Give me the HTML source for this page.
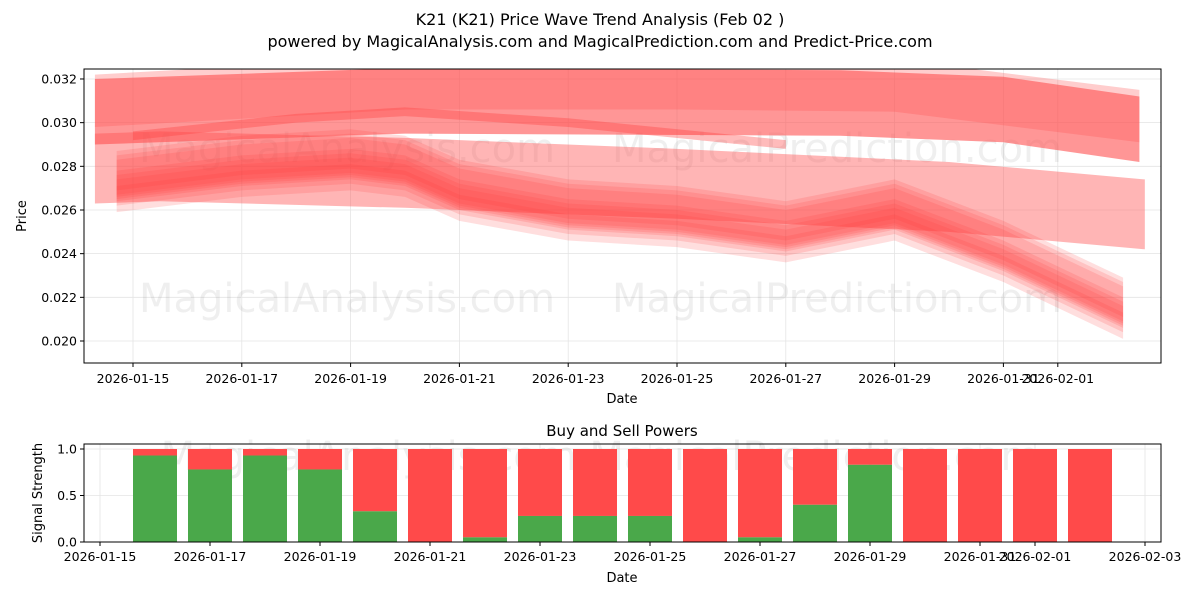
<!DOCTYPE html>
<html><head><meta charset="utf-8"><style>
body{margin:0;background:#fff;font-family:"Liberation Sans","DejaVu Sans",sans-serif}
svg text{font-family:"DejaVu Sans","Liberation Sans",sans-serif;fill:#000}
</style></head><body>
<svg id="c" width="1200" height="600" viewBox="0 0 1200 600" xmlns="http://www.w3.org/2000/svg">
<defs><clipPath id="plotClip"><rect x="84" y="69" width="1077" height="294"/></clipPath></defs>
<text x="600" y="25" text-anchor="middle" font-size="16">K21 (K21) Price Wave Trend Analysis (Feb 02 )</text>
<text x="600" y="47" text-anchor="middle" font-size="16">powered by MagicalAnalysis.com and MagicalPrediction.com and Predict-Price.com</text>
<g id="topPanel"><g id="topBands" clip-path="url(#plotClip)"></g></g>
<g id="botPanel"></g>
</svg>
<script>
const NS="http://www.w3.org/2000/svg";
// ---- data ----
const priceTicks=[0.020,0.022,0.024,0.026,0.028,0.030,0.032];
const topDateLabels=["2026-01-15","2026-01-17","2026-01-19","2026-01-21","2026-01-23","2026-01-25","2026-01-27","2026-01-29","2026-01-31","2026-02-01"];
const topDateDays=[0,2,4,6,8,10,12,14,16,17];
const bandADays=[-0.7,5,13,16,18.5];
const bandAPrice=[0.0305,0.0310,0.0309,0.0306,0.0297];
const bandBDays=[-0.7,0.5,5,10,15,18.6];
const bandBPrice=[0.0279,0.0280,0.0277,0.0272,0.0266,0.0258];
const bandCDays=[-0.7,5,10,14,18.5];
const bandCPrice=[0.0310,0.0318,0.0318,0.0317,0.0303];
const thinDays=[0,3,5,8,12];
const thinPrice=[0.0294,0.0302,0.0305,0.0300,0.0290];
const waveDays=[-0.3,2,4,5,6,8,10,12,14,16,18.2];
const wavePrice=[0.0272,0.0279,0.0282,0.0279,0.0268,0.0259,0.0256,0.0249,0.0259,0.0240,0.0214];
const waveOffsets=[0,0.0004,-0.0004,0.0002,-0.0007,0.0006,-0.0002];
const barLabels=["01-16","01-17","01-18","01-19","01-20","01-21","01-22","01-23","01-24","01-25","01-26","01-27","01-28","01-29","01-30","01-31","02-01","02-02"];
const buyPower=[0.93,0.78,0.93,0.78,0.33,0,0.05,0.28,0.28,0.28,0,0.05,0.4,0.83,0,0,0,0];
const botDateLabels=["2026-01-15","2026-01-17","2026-01-19","2026-01-21","2026-01-23","2026-01-25","2026-01-27","2026-01-29","2026-01-31","2026-02-01","2026-02-03"];
const botDateDays=[0,2,4,6,8,10,12,14,16,17,19];
const sigTicks=[0,0.5,1.0];
// ---- axes ----
const T={l:84,r:1161,t:69,b:363};
const tx=d=>133+54.4*d, ty=p=>341-(p-0.020)/0.002*43.67;
const B={l:84,r:1161,t:444,b:542};
const bx=d=>100+55*d, by=v=>542-v*93;
function el(p,tag,a,name){const e=document.createElementNS(NS,tag);for(const k in a)e.setAttribute(k,a[k]);


p.appendChild(e);return e;}
const gTop=document.getElementById('topPanel'), gBands=document.getElementById('topBands'), gBot=document.getElementById('botPanel');
priceTicks.forEach(p=>{el(gBands,'line',{x1:T.l,x2:T.r,y1:ty(p),y2:ty(p),stroke:'#e4e4e4','stroke-width':0.8},'grid-line-y');});
topDateDays.forEach(d=>{el(gBands,'line',{x1:tx(d),x2:tx(d),y1:T.t,y2:T.b,stroke:'#e4e4e4','stroke-width':0.8},'grid-line-x');});
[["MagicalAnalysis.com",347,162],["MagicalPrediction.com",837,162],["MagicalAnalysis.com",347,312],["MagicalPrediction.com",837,312]].forEach(w=>{
const t=el(gBands,'text',{x:w[1],y:w[2],'text-anchor':'middle','font-size':40,style:'fill:rgba(120,120,120,0.12)'},'watermark');t.textContent=w[0];});
function band(days,prices,hw,fill,name,off){
 off=off||0;const up=[],dn=[];
 for(let i=0;i<days.length;i++){const x=tx(days[i]);up.push(x+','+ty(prices[i]+off+hw));dn.unshift(x+','+ty(prices[i]+off-hw));}
 el(gBands,'polygon',{points:up.concat(dn).join(' '),fill:fill},name);
}
band(bandCDays,bandCPrice,0.0012,'rgba(255,90,90,0.3)','forecast-band-top');
band(bandBDays,bandBPrice,0.0016,'rgba(255,90,90,0.45)','forecast-band-lower');
band(bandADays,bandAPrice,0.0015,'rgba(255,80,80,0.6)','forecast-band-upper');
band(thinDays,thinPrice,0.0002,'rgba(255,60,60,0.35)','forecast-band-thin');
waveOffsets.forEach((o,i)=>band(waveDays,wavePrice,i%2?0.0009:0.0006,'rgba(255,60,60,0.17)','wave-band-'+i,o));
el(gTop,'rect',{x:T.l,y:T.t,width:T.r-T.l,height:T.b-T.t,fill:'none',stroke:'#000','stroke-width':1},'plot-frame');
priceTicks.forEach(p=>{el(gTop,'line',{x1:T.l-4,x2:T.l,y1:ty(p),y2:ty(p),stroke:'#000'},'y-tick');
const t=el(gTop,'text',{x:T.l-7,y:ty(p)+4.5,'text-anchor':'end','font-size':12.5},'y-tick-label');t.textContent=p.toFixed(3);});
topDateDays.forEach((d,i)=>{el(gTop,'line',{x1:tx(d),x2:tx(d),y1:T.b,y2:T.b+4,stroke:'#000'},'x-tick');
const t=el(gTop,'text',{x:tx(d),y:T.b+20,'text-anchor':'middle','font-size':12.5},'x-tick-label');t.textContent=topDateLabels[i];});
let t=el(gTop,'text',{x:622,y:403,'text-anchor':'middle','font-size':13},'x-axis-title');t.textContent='Date';
t=el(gTop,'text',{x:0,y:0,'text-anchor':'middle','font-size':13,transform:'translate(26,216) rotate(-90)'},'y-axis-title');t.textContent='Price';
sigTicks.forEach(v=>el(gBot,'line',{x1:B.l,x2:B.r,y1:by(v),y2:by(v),stroke:'#e4e4e4','stroke-width':0.8},'grid-line-y'));
botDateDays.forEach(d=>el(gBot,'line',{x1:bx(d),x2:bx(d),y1:B.t,y2:B.b,stroke:'#e4e4e4','stroke-width':0.8},'grid-line-x'));
t=el(gBot,'text',{x:600,y:470,'text-anchor':'middle','font-size':40,style:'fill:rgba(120,120,120,0.12)'},'watermark');t.textContent='MagicalAnalysis.com        MagicalPrediction.com';
buyPower.forEach((v,i)=>{const x=bx(i+1)-22;
el(gBot,'rect',{x:x,y:by(1),width:44,height:by(v)-by(1),fill:'#ff4a4a'},'sell-bar-'+barLabels[i]);
el(gBot,'rect',{x:x,y:by(v),width:44,height:by(0)-by(v),fill:'#4aa84a'},'buy-bar-'+barLabels[i]);});
el(gBot,'rect',{x:B.l,y:B.t,width:B.r-B.l,height:B.b-B.t,fill:'none',stroke:'#000'},'signal-frame');
sigTicks.forEach(v=>{el(gBot,'line',{x1:B.l-4,x2:B.l,y1:by(v),y2:by(v),stroke:'#000'},'y-tick');
const q=el(gBot,'text',{x:B.l-7,y:by(v)+4.5,'text-anchor':'end','font-size':12.5},'y-tick-label');q.textContent=v.toFixed(1);});
botDateDays.forEach((d,i)=>{el(gBot,'line',{x1:bx(d),x2:bx(d),y1:B.b,y2:B.b+4,stroke:'#000'},'x-tick');
const q=el(gBot,'text',{x:bx(d),y:B.b+19,'text-anchor':'middle','font-size':12.5},'x-tick-label');q.textContent=botDateLabels[i];});
t=el(gBot,'text',{x:622,y:436,'text-anchor':'middle','font-size':15},'signal-title');t.textContent='Buy and Sell Powers';
t=el(gBot,'text',{x:622,y:582,'text-anchor':'middle','font-size':13},'x-axis-title');t.textContent='Date';
t=el(gBot,'text',{x:0,y:0,'text-anchor':'middle','font-size':13,transform:'translate(42,493) rotate(-90)'},'y-axis-title');t.textContent='Signal Strength';
</script>
</body></html>
